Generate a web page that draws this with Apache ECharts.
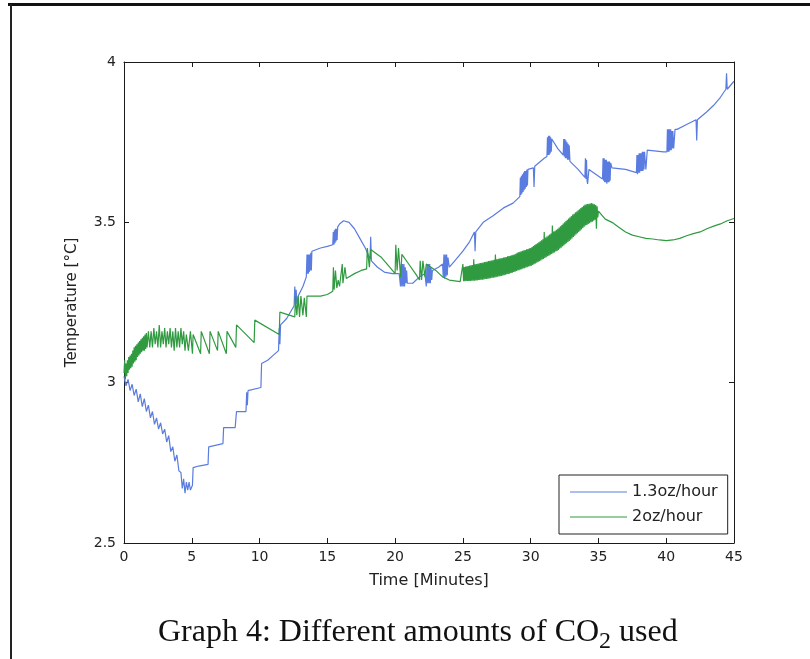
<!DOCTYPE html>
<html>
<head>
<meta charset="utf-8">
<script src="https://cdn.jsdelivr.net/npm/echarts@6/dist/echarts.min.js"></script>
<style>
html,body{margin:0;padding:0;background:#fff;}
#chart{width:810px;height:659px;}
</style>
</head>
<body>
<div id="chart"></div>
<script>
// Series names
const seriesNames = ['1.3oz/hour', '2oz/hour'];
// [time (minutes), temperature (°C)]
const blueData = [[0,3.02],[0.15,2.99],[0.3,3.01],[0.45,2.975],[0.6,2.995],[0.75,2.96],[0.9,2.98],[1.05,2.94],[1.2,2.965],[1.35,2.925],[1.5,2.95],[1.65,2.91],[1.8,2.93],[1.95,2.89],[2.1,2.91],[2.25,2.87],[2.4,2.89],[2.55,2.855],[2.7,2.875],[2.85,2.84],[3.0,2.855],[3.15,2.815],[3.3,2.835],[3.45,2.785],[3.6,2.80],[3.75,2.755],[3.9,2.775],[4.05,2.725],[4.2,2.72],[4.3,2.67],[4.4,2.70],[4.5,2.655],[4.6,2.69],[4.7,2.665],[4.8,2.69],[4.9,2.665],[5.05,2.68],[5.1,2.735],[5.5,2.74],[6.2,2.745],[6.25,2.80],[7.3,2.81],[7.35,2.86],[8.2,2.86],[8.3,2.91],[9.0,2.91],[9.05,2.97],[9.1,2.93],[9.15,2.975],[10.1,2.985],[10.15,3.06],[10.6,3.07],[11.0,3.085],[11.4,3.10],[11.45,3.17],[11.5,3.12],[11.55,3.18],[12.0,3.20],[12.55,3.24],[12.6,3.30],[12.65,3.25],[12.7,3.29],[12.75,3.245],[12.85,3.27],[13.2,3.30],[13.45,3.33],[13.5,3.40],[13.53,3.34],[13.56,3.40],[13.6,3.34],[13.63,3.40],[13.67,3.345],[13.7,3.40],[13.74,3.35],[13.78,3.405],[13.82,3.35],[13.86,3.41],[13.9,3.41],[14.0,3.415],[14.5,3.42],[15.0,3.425],[15.4,3.43],[15.44,3.47],[15.48,3.43],[15.52,3.475],[15.56,3.435],[15.6,3.48],[15.64,3.44],[15.68,3.48],[15.72,3.445],[15.76,3.485],[15.9,3.495],[16.2,3.505],[16.6,3.50],[17.0,3.48],[17.4,3.45],[17.8,3.42],[18.15,3.385],[18.2,3.455],[18.25,3.38],[18.7,3.36],[19.2,3.345],[19.8,3.34],[20.3,3.34],[20.4,3.30],[20.45,3.37],[20.5,3.30],[20.55,3.37],[20.6,3.30],[20.65,3.37],[20.7,3.30],[20.75,3.36],[20.8,3.31],[20.85,3.35],[20.9,3.31],[21.3,3.31],[21.8,3.33],[22.2,3.34],[22.3,3.30],[22.35,3.37],[22.4,3.31],[22.45,3.37],[22.5,3.31],[22.55,3.37],[22.6,3.31],[22.65,3.36],[22.7,3.32],[22.75,3.35],[23.2,3.36],[23.5,3.37],[23.55,3.33],[23.6,3.40],[23.65,3.325],[23.7,3.40],[23.75,3.33],[23.8,3.40],[23.85,3.335],[23.9,3.39],[24.0,3.36],[24.4,3.38],[25.0,3.41],[25.5,3.44],[25.85,3.47],[25.9,3.41],[25.95,3.47],[26.5,3.50],[27.2,3.52],[28.0,3.545],[28.7,3.56],[29.2,3.58],[29.24,3.64],[29.28,3.585],[29.32,3.645],[29.36,3.59],[29.4,3.65],[29.44,3.595],[29.48,3.655],[29.52,3.60],[29.56,3.66],[29.6,3.605],[29.64,3.66],[29.68,3.61],[29.72,3.665],[29.76,3.615],[29.8,3.665],[29.9,3.66],[30.2,3.67],[30.25,3.61],[30.3,3.675],[31.0,3.70],[31.2,3.705],[31.24,3.765],[31.28,3.71],[31.32,3.77],[31.36,3.71],[31.4,3.77],[31.44,3.715],[31.48,3.765],[31.52,3.72],[31.56,3.76],[31.6,3.755],[32.0,3.73],[32.4,3.71],[32.44,3.76],[32.48,3.705],[32.52,3.76],[32.56,3.70],[32.6,3.755],[32.64,3.70],[32.68,3.75],[32.72,3.695],[32.76,3.745],[32.8,3.695],[32.84,3.74],[32.9,3.69],[33.5,3.665],[34.0,3.64],[34.04,3.70],[34.08,3.635],[34.12,3.695],[34.16,3.63],[34.2,3.62],[34.3,3.665],[34.8,3.65],[35.3,3.635],[35.34,3.70],[35.38,3.63],[35.42,3.70],[35.46,3.625],[35.5,3.695],[35.54,3.625],[35.58,3.695],[35.62,3.62],[35.66,3.69],[35.7,3.625],[35.74,3.69],[35.78,3.625],[35.82,3.69],[35.86,3.63],[35.9,3.685],[36.0,3.67],[37.0,3.665],[37.8,3.655],[37.84,3.71],[37.88,3.65],[37.92,3.71],[37.96,3.655],[38.0,3.715],[38.04,3.655],[38.08,3.715],[38.12,3.66],[38.16,3.715],[38.2,3.66],[38.24,3.72],[38.28,3.66],[38.32,3.72],[38.36,3.665],[38.4,3.72],[38.5,3.665],[38.6,3.725],[39.8,3.72],[40.05,3.72],[40.09,3.79],[40.13,3.72],[40.17,3.79],[40.21,3.72],[40.25,3.79],[40.29,3.725],[40.33,3.79],[40.37,3.725],[40.41,3.785],[40.45,3.73],[40.49,3.785],[40.55,3.73],[40.65,3.79],[40.8,3.79],[41.5,3.805],[42.2,3.82],[42.25,3.755],[42.3,3.82],[43.0,3.845],[43.5,3.865],[44.0,3.89],[44.4,3.915],[44.45,3.965],[44.5,3.915],[45.0,3.94]];

// green, first part (0 - 25 min)
const greenStart = [[0,3.03],[0.05,3.07],[0.1,3.01],[0.15,3.06],[0.2,3.02],[0.25,3.07],[0.3,3.03],[0.35,3.08],[0.4,3.04],[0.45,3.085],[0.5,3.045],[0.55,3.09],[0.6,3.05],[0.65,3.10],[0.7,3.06],[0.75,3.11],[0.8,3.065],[0.85,3.115],[0.9,3.07],[0.95,3.12],[1.0,3.08],[1.05,3.125],[1.1,3.085],[1.15,3.13],[1.2,3.09],[1.25,3.135],[1.3,3.095],[1.35,3.14],[1.4,3.10],[1.45,3.145],[1.5,3.10],[1.55,3.15],[1.6,3.105],[1.65,3.155],[1.7,3.11],[1.8,3.16],[1.9,3.11],[2.0,3.16],[2.1,3.11],[2.2,3.17],[2.3,3.12],[2.4,3.16],[2.5,3.11],[2.6,3.18],[2.7,3.11],[2.8,3.16],[2.9,3.12],[3.0,3.17],[3.1,3.11],[3.2,3.16],[3.3,3.12],[3.4,3.17],[3.5,3.11],[3.6,3.16],[3.7,3.10],[3.8,3.17],[3.9,3.11],[4.0,3.16],[4.1,3.11],[4.2,3.17],[4.3,3.12],[4.4,3.16],[4.5,3.10],[4.6,3.15],[4.75,3.10],[4.9,3.16],[5.05,3.09],[5.1,3.15],[5.65,3.09],[5.7,3.16],[6.3,3.09],[6.35,3.16],[6.9,3.10],[6.95,3.16],[7.55,3.09],[7.6,3.16],[8.25,3.11],[8.3,3.18],[9.6,3.125],[9.65,3.195],[11.45,3.15],[11.5,3.22],[12.6,3.205],[12.65,3.27],[12.75,3.21],[12.85,3.27],[12.95,3.205],[13.05,3.27],[13.2,3.21],[13.3,3.265],[13.45,3.205],[13.5,3.27],[14.5,3.27],[15.0,3.275],[15.4,3.285],[15.45,3.36],[15.5,3.29],[15.6,3.35],[15.7,3.295],[15.8,3.32],[15.9,3.30],[16.1,3.37],[16.15,3.31],[16.3,3.36],[16.4,3.325],[17.0,3.34],[17.5,3.35],[17.9,3.355],[17.95,3.42],[18.1,3.36],[18.2,3.415],[19.0,3.39],[19.6,3.36],[20.0,3.34],[20.05,3.43],[20.15,3.35],[20.25,3.42],[20.4,3.33],[20.5,3.40],[21.0,3.37],[21.5,3.34],[21.8,3.32],[21.85,3.38],[21.95,3.32],[22.05,3.38],[22.2,3.33],[22.3,3.37],[23.0,3.35],[23.5,3.33],[24.0,3.32],[24.8,3.315]];

// green, dense oscillating band (25 - 35 min): upper and lower edges alternate
const greenBand = [[25.0,3.37],[25.05,3.316],[25.1,3.361],[25.15,3.316],[25.2,3.362],[25.25,3.317],[25.3,3.363],[25.35,3.317],[25.4,3.364],[25.45,3.317],[25.5,3.365],[25.55,3.317],[25.6,3.366],[25.65,3.318],[25.7,3.367],[25.75,3.318],[25.8,3.385],[25.85,3.318],[25.9,3.369],[25.95,3.319],[26.0,3.37],[26.05,3.319],[26.1,3.371],[26.15,3.32],[26.2,3.372],[26.25,3.32],[26.3,3.373],[26.35,3.321],[26.4,3.374],[26.45,3.321],[26.5,3.375],[26.55,3.322],[26.6,3.376],[26.65,3.323],[26.7,3.377],[26.75,3.323],[26.8,3.378],[26.85,3.324],[26.9,3.379],[26.95,3.325],[27.0,3.38],[27.05,3.326],[27.1,3.381],[27.15,3.327],[27.2,3.382],[27.25,3.327],[27.3,3.383],[27.35,3.328],[27.4,3.40],[27.45,3.329],[27.5,3.385],[27.55,3.33],[27.6,3.386],[27.65,3.331],[27.7,3.387],[27.75,3.332],[27.8,3.388],[27.85,3.333],[27.9,3.389],[27.95,3.334],[28.0,3.39],[28.05,3.335],[28.1,3.391],[28.15,3.337],[28.2,3.392],[28.25,3.338],[28.3,3.394],[28.35,3.339],[28.4,3.395],[28.45,3.34],[28.5,3.396],[28.55,3.342],[28.6,3.397],[28.65,3.343],[28.7,3.399],[28.75,3.345],[28.8,3.40],[28.85,3.346],[28.9,3.402],[28.95,3.348],[29.0,3.405],[29.05,3.35],[29.1,3.407],[29.15,3.351],[29.2,3.408],[29.25,3.353],[29.3,3.41],[29.35,3.354],[29.4,3.411],[29.45,3.356],[29.5,3.413],[29.55,3.357],[29.6,3.414],[29.65,3.359],[29.7,3.416],[29.75,3.36],[29.8,3.417],[29.85,3.362],[29.9,3.419],[29.95,3.363],[30.0,3.42],[30.05,3.365],[30.1,3.423],[30.15,3.367],[30.2,3.426],[30.25,3.369],[30.3,3.429],[30.35,3.372],[30.4,3.432],[30.45,3.374],[30.5,3.435],[30.55,3.376],[30.6,3.438],[30.65,3.379],[30.7,3.441],[30.75,3.381],[30.8,3.444],[30.85,3.384],[30.9,3.447],[30.95,3.386],[31.0,3.47],[31.05,3.389],[31.1,3.453],[31.15,3.391],[31.2,3.456],[31.25,3.394],[31.3,3.459],[31.35,3.396],[31.4,3.462],[31.45,3.399],[31.5,3.465],[31.55,3.401],[31.6,3.49],[31.65,3.404],[31.7,3.471],[31.75,3.406],[31.8,3.474],[31.85,3.409],[31.9,3.477],[31.95,3.411],[32.0,3.48],[32.05,3.414],[32.1,3.484],[32.15,3.418],[32.2,3.488],[32.25,3.421],[32.3,3.492],[32.35,3.425],[32.4,3.496],[32.45,3.428],[32.5,3.50],[32.55,3.432],[32.6,3.504],[32.65,3.435],[32.7,3.508],[32.75,3.439],[32.8,3.512],[32.85,3.442],[32.9,3.516],[32.95,3.446],[33.0,3.52],[33.05,3.45],[33.1,3.524],[33.15,3.454],[33.2,3.527],[33.25,3.458],[33.3,3.531],[33.35,3.462],[33.4,3.534],[33.45,3.466],[33.5,3.538],[33.55,3.47],[33.6,3.541],[33.65,3.474],[33.7,3.545],[33.75,3.478],[33.8,3.548],[33.85,3.482],[33.9,3.552],[33.95,3.486],[34.0,3.555],[34.05,3.49],[34.1,3.556],[34.15,3.492],[34.2,3.557],[34.25,3.495],[34.3,3.558],[34.35,3.497],[34.4,3.559],[34.45,3.50],[34.5,3.56],[34.55,3.502],[34.6,3.558],[34.65,3.505],[34.7,3.556],[34.75,3.508],[34.8,3.554],[34.85,3.48],[34.9,3.55],[34.95,3.515],[35.0,3.535]];

// green, last part (35 - 45 min)
const greenEnd = [[35.5,3.51],[36.0,3.50],[36.5,3.485],[37.0,3.47],[37.5,3.46],[38.0,3.455],[38.5,3.45],[39.0,3.448],[39.5,3.445],[40.0,3.443],[40.5,3.445],[41.0,3.45],[41.5,3.458],[42.0,3.465],[42.5,3.47],[43.0,3.48],[43.5,3.488],[44.0,3.495],[44.5,3.505],[45.0,3.512]];

const greenData = greenStart.concat(greenBand, greenEnd);

const xTitle = 'Time [Minutes]';
const yTitle = 'Temperature [°C]';

const chart = echarts.init(document.getElementById('chart'), null, {renderer: 'canvas'});
const axisCol = '#1a1a1a';
const font = 'DejaVu Sans';
const blueCol = '#5a7ce0';
const greenCol = '#2f9a40';
const baseX = {
  type: 'value', min: 0, max: 45, interval: 5,
  axisLine: {show: true, onZero: false, lineStyle: {color: axisCol, width: 1}},
  axisTick: {show: true, inside: true, length: 5, lineStyle: {color: axisCol}},
  splitLine: {show: false}
};
const baseY = {
  type: 'value', min: 2.5, max: 4, interval: 0.5,
  axisLine: {show: true, onZero: false, lineStyle: {color: axisCol, width: 1}},
  axisTick: {show: true, inside: true, length: 5, lineStyle: {color: axisCol}},
  splitLine: {show: false}
};
const lineIcon = 'path://M0,0M57,14M0,6.5H57V7.5H0Z';
chart.setOption({
  animation: false,
  backgroundColor: '#ffffff',
  grid: {left: 124, top: 62, right: 76, bottom: 116, containLabel: false},
  xAxis: [
    Object.assign({}, baseX, {
      position: 'bottom',
      axisLabel: {show: true, color: '#222', fontSize: 14, fontFamily: font, margin: 7},
      name: xTitle, nameLocation: 'middle', nameGap: 30,
      nameTextStyle: {color: '#222', fontSize: 16, fontFamily: font}
    }),
    Object.assign({}, baseX, {position: 'top', axisLabel: {show: false}})
  ],
  yAxis: [
    Object.assign({}, baseY, {
      position: 'left',
      axisLabel: {show: true, color: '#222', fontSize: 14, fontFamily: font, margin: 8},
      name: yTitle, nameLocation: 'middle', nameGap: 44, nameRotate: 90,
      nameTextStyle: {color: '#222', fontSize: 15, fontFamily: font}
    }),
    Object.assign({}, baseY, {position: 'right', axisLabel: {show: false}})
  ],
  legend: {
    orient: 'vertical', left: 559, top: 475,
    data: [{name: seriesNames[0], icon: lineIcon}, {name: seriesNames[1], icon: lineIcon}],
    selectedMode: false,
    backgroundColor: '#fff',
    borderColor: '#222', borderWidth: 1,
    padding: [9, 10, 9, 11],
    itemWidth: 57, itemHeight: 14, itemGap: 9,
    textStyle: {color: '#222', fontSize: 16, fontFamily: font}
  },
  series: [
    {name: seriesNames[0], type: 'line', data: blueData, xAxisIndex: 0, yAxisIndex: 0,
     symbol: 'none', showSymbol: false, color: blueCol,
     lineStyle: {width: 1.2, color: blueCol}},
    {name: seriesNames[1], type: 'line', data: greenData, xAxisIndex: 0, yAxisIndex: 0,
     symbol: 'none', showSymbol: false, color: greenCol,
     lineStyle: {width: 1.2, color: greenCol}}
  ],
  graphic: [
    {type: 'rect', shape: {x: 8, y: 3, width: 802, height: 3}, style: {fill: '#111'}, silent: true},
    {type: 'rect', shape: {x: 10, y: 4, width: 2, height: 655}, style: {fill: '#222'}, silent: true},
    {type: 'text', left: 158, top: 617,
     style: {
       text: '{a|Graph 4: Different amounts of CO}{s|2}{a| used}',
       rich: {
         a: {fontFamily: 'Liberation Serif', fontSize: 32, fill: '#111', lineHeight: 36, verticalAlign: 'bottom'},
         s: {fontFamily: 'Liberation Serif', fontSize: 24, fill: '#111', lineHeight: 30, verticalAlign: 'bottom', padding: [0, 0, -5, 0]}
       }
     }}
  ]
});
</script>
</body>
</html>
